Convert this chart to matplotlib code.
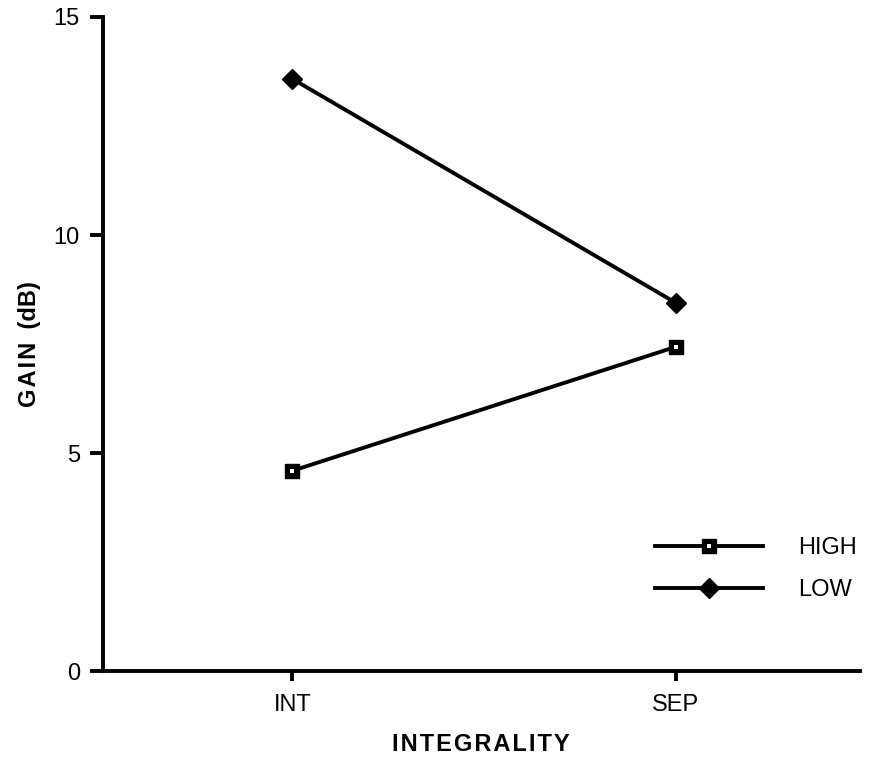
import matplotlib
matplotlib.use("Agg")
import matplotlib.pyplot as plt

categories = ["INT", "SEP"]
high = [4.6, 7.44]
low = [13.58, 8.45]
yticks = [0, 5, 10, 15]

plt.rcParams['font.family'] = ['Liberation Sans', 'DejaVu Sans']

fig = plt.figure(figsize=(8.71, 7.76), dpi=100)
ax = fig.add_axes([0.118, 0.1347, 0.869, 0.8434])

x = list(range(len(categories)))
lw = 2.8
h_line, = ax.plot(x, high, color='black', lw=lw, marker='s', ms=10, mfc='black', mec='black', mew=1)
h_dot, = ax.plot(x, high, ls='none', marker='s', ms=2.6, mfc='white', mec='white', mew=0, zorder=5)
l_line, = ax.plot(x, low, color='black', lw=lw, marker='D', ms=10.5, mfc='black', mec='black')

ax.set_xlim(-0.495, 1.48)
ax.set_ylim(0, 15)
ax.set_xticks(x)
ax.set_xticklabels(categories)
ax.set_yticks(yticks)
ax.set_yticklabels([str(v) for v in yticks])

for s in ['top', 'right']:
    ax.spines[s].set_visible(False)
for s in ['left', 'bottom']:
    ax.spines[s].set_linewidth(lw)

ax.tick_params(axis='y', direction='out', length=9.5, width=lw, labelsize=17, pad=7)
ax.tick_params(axis='x', direction='out', length=7.5, width=lw, labelsize=17, pad=9)

ax.set_ylabel('\u200a'.join('GAIN') + '  (dB)', fontsize=17, fontweight='bold', labelpad=9)
ax.set_xlabel('\u200a'.join('INTEGRALITY'), fontsize=17, fontweight='bold', labelpad=12)

ax.legend([(h_line, h_dot), l_line], ['HIGH', 'LOW'], loc='upper left',
          bbox_to_anchor=(0.7134, 0.223), frameon=False,
          fontsize=17, handlelength=4.6, handletextpad=1.5, labelspacing=0.83, borderpad=0)

fig.savefig('out.png', dpi=100)
